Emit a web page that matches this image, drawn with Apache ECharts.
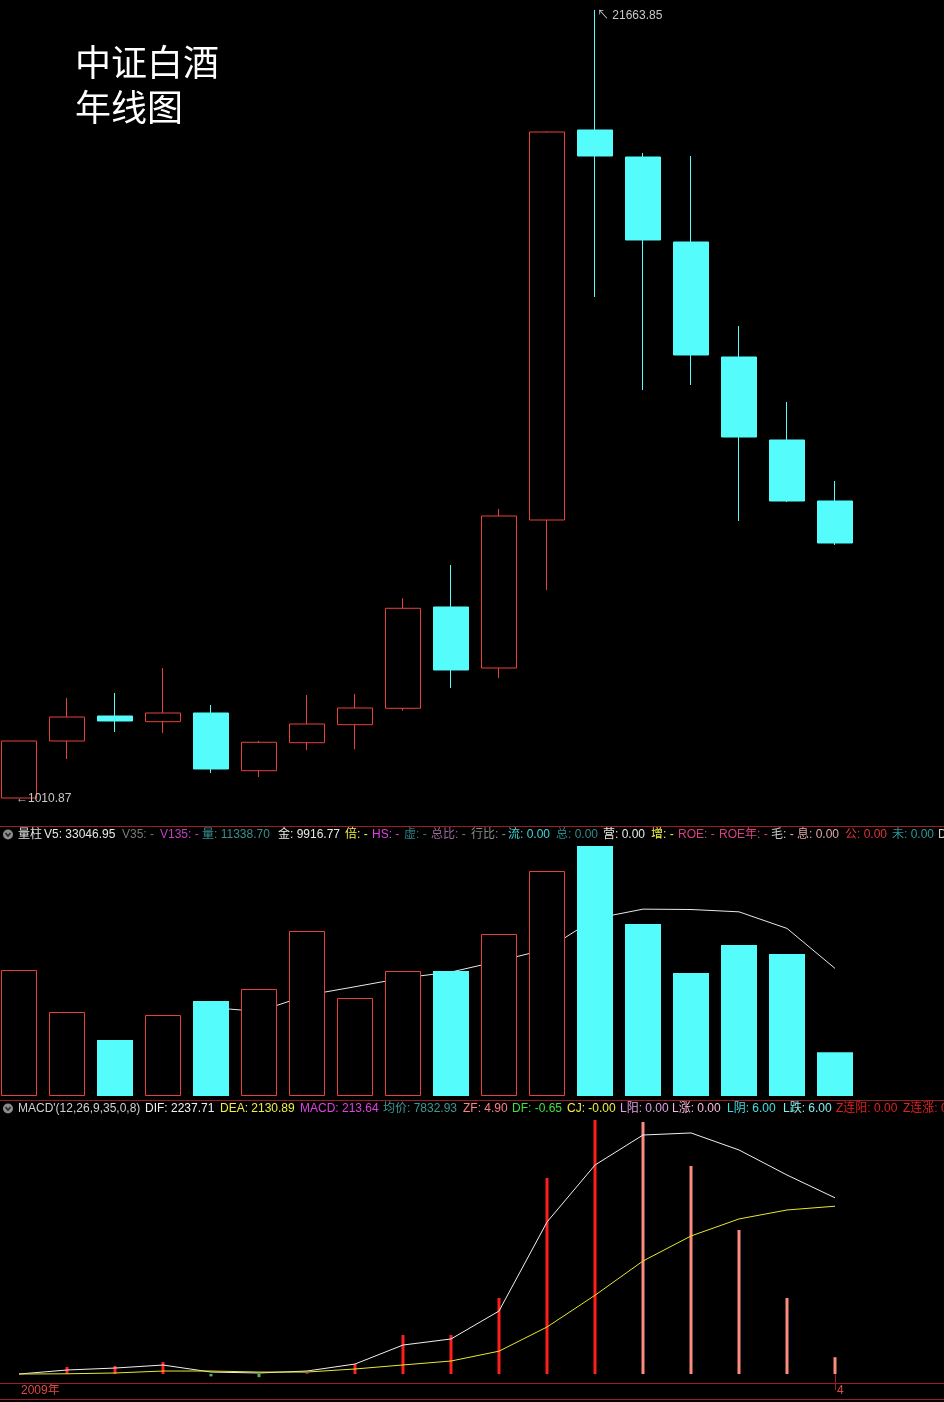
<!DOCTYPE html>
<html>
<head>
<meta charset="utf-8">
<script src="https://cdn.jsdelivr.net/npm/echarts@6/dist/echarts.min.js"></script>
<style>
html,body{margin:0;padding:0;background:#000;}
#c{width:944px;height:1402px;}
</style>
</head>
<body>
<div id="c"></div>
<script>
// ---- data ----
var years = ['2009','2010','2011','2012','2013','2014','2015','2016','2017','2018','2019','2020','2021','2022','2023','2024','2025','2026'];
var xTickLabels = ['2009年','','','','','','','','','','','','','','','','','4'];
// [open, close, low, high]
var opens  = [1010.87, 2505, 3160, 3011, 3239, 1726, 2460, 2932, 3362, 6017, 4418, 8297, 18519, 17811, 15583, 12569, 10394, 8795];
var closes = [2505, 3134, 3029, 3239, 1771, 2471, 2950, 3370, 5983, 4366, 8402, 18466, 17837, 15636, 12622, 10472, 8795, 7694];
var lows   = [1010.87, 2033, 2741, 2715, 1666, 1561, 2269, 2287, 3299, 3894, 4156, 6463, 14142, 11704, 11835, 8271, 8769, 7642];
var highs  = [2505, 3632, 3763, 4418, 3448, 2505, 3710, 3737, 6245, 7118, 8585, 18480, 21663.85, 17916, 17837, 13382, 11390, 9319];
var volumes = [32634, 21756, 14504, 20979, 24605, 27713, 42735, 25382, 32375, 32375, 41958, 58275, 64750, 44548, 31857, 39109, 36778, 11338.70];
var volMA5  = [null, null, null, null, 22900, 21900, 26100, 28300, 30550, 32100, 34950, 38050, 45950, 48400, 48300, 47700, 43400, 33046.95];
var dif  = [0, 51, 76, 114, 25, 13, 38, 127, 368, 445, 800, 1930, 2654, 3035, 3061, 2845, 2527, 2237.71];
var dea  = [0, 3, 13, 38, 38, 25, 25, 64, 115, 165, 290, 597, 1000, 1435, 1753, 1969, 2083, 2130.89];
var macd = [0, 89, 102, 152, -30, -40, 10, 127, 495, 495, 965, 2489, 3226, 3200, 2642, 1829, 965, 213.64];
var priceHigh = 21663.85, priceLow = 1010.87;

// ---- styles ----
var RED = '#e8403c', CYAN = '#54fcfc', SEP = '#9a1e2a';
var FONT = 'Arial, "Liberation Sans", "Noto Sans CJK SC", sans-serif';

var kData = years.map(function(y, i){ return [opens[i], closes[i], lows[i], highs[i]]; });
var volData = volumes.map(function(v, i){
  var up = closes[i] >= opens[i];
  return { value: v, itemStyle: up ? { color: '#000', borderColor: RED, borderWidth: 1 } : { color: CYAN, borderWidth: 0 } };
});

var volHeader = [
  [18,'量柱','#e0e0e0'],[44,'V5: 33046.95','#e8e8e8'],[122,'V35: -','#7a7a7a'],[160,'V135: -','#c040c0'],
  [202,'量: 11338.70','#3a9090'],[278,'金: 9916.77','#e8e8e8'],[345,'倍: -','#f0f040'],[372,'HS: -','#e040e0'],
  [404,'虚: -','#308080'],[431,'总比: -','#9a6a9a'],[471,'行比: -','#8a8a8a'],[508,'流: 0.00','#40d8d8'],
  [556,'总: 0.00','#308a8a'],[603,'营: 0.00','#e8e8e8'],[651,'增: -','#f0f040'],[678,'ROE: -','#d84080'],
  [719,'ROE年: -','#d84080'],[771,'毛: -','#c8c8c8'],[797,'息: 0.00','#e0a8a8'],[845,'公: 0.00','#d83838'],
  [892,'未: 0.00','#309898'],[938,'D','#d0d0d0']
];
var macdHeader = [
  [18,"MACD'(12,26,9,35,0,8)",'#d0d0d0'],[145,'DIF: 2237.71','#f0f0f0'],[220,'DEA: 2130.89','#f0f040'],
  [300,'MACD: 213.64','#e040e0'],[383,'均价: 7832.93','#3a9a9a'],[463,'ZF: 4.90','#ff8080'],
  [512,'DF: -0.65','#40e040'],[567,'CJ: -0.00','#f0f040'],[620,'L阳: 0.00','#e0a0e0'],
  [672,'L涨: 0.00','#ffb8e0'],[727,'L阴: 6.00','#40e0e0'],[783,'L跌: 6.00','#80f0f0'],
  [836,'Z连阳: 0.00','#e02020'],[903,'Z连涨: 0','#e02020']
];

var graphics = [];
function addHeader(list, y){
  list.forEach(function(h){
    graphics.push({ type:'text', x:h[0], y:y, z:10,
      style:{ text:h[1], fill:h[2], fontSize:12, fontFamily:FONT, verticalAlign:'middle' } });
  });
  graphics.push({ type:'circle', shape:{cx:8, cy:y, r:5}, style:{fill:'#8c8c8c'}, z:10 });
  graphics.push({ type:'polyline', shape:{points:[[5.5,y-1.5],[8,y+1.5],[10.5,y-1.5]]}, style:{stroke:'#222', lineWidth:1.5, fill:null}, z:11 });
}
addHeader(volHeader, 834.5);
addHeader(macdHeader, 1108.5);
[826, 1100, 1383, 1399].forEach(function(y){
  graphics.push({ type:'line', shape:{x1:0, y1:y+0.5, x2:944, y2:y+0.5}, style:{stroke:SEP, lineWidth:1}, z:5 });
});
graphics.push({ type:'text', x:75, y:62, z:10, style:{ text:'中证白酒', fill:'#ffffff', fontSize:36, fontFamily:'"Noto Sans CJK SC", sans-serif', verticalAlign:'middle' } });
graphics.push({ type:'text', x:75, y:107, z:10, style:{ text:'年线图', fill:'#ffffff', fontSize:36, fontFamily:'"Noto Sans CJK SC", sans-serif', verticalAlign:'middle' } });

var chart = echarts.init(document.getElementById('c'), null, {renderer:'canvas'});
var gridX = { left: 19, width: 816 };
chart.setOption({
  backgroundColor: '#000',
  animation: false,
  graphic: graphics,
  grid: [
    { left: gridX.left, width: gridX.width, top: 10, height: 788 },
    { left: gridX.left, width: gridX.width, top: 846, height: 250 },
    { left: gridX.left, width: gridX.width, top: 1118, height: 265 }
  ],
  xAxis: [
    { type:'category', gridIndex:0, data:years, boundaryGap:false, show:false },
    { type:'category', gridIndex:1, data:years, boundaryGap:false, show:false },
    { type:'category', gridIndex:2, data:years, boundaryGap:false,
      axisLine:{ show:false },
      axisTick:{ show:true, length:16, interval:function(i){ return i === years.length-1; }, lineStyle:{ color:SEP } },
      axisLabel:{ interval:0, color:'#e04848', fontSize:12, fontFamily:FONT, align:'left', margin:2, padding:[0,0,0,2],
        formatter:function(v, i){ return xTickLabels[i]; } },
      splitLine:{ show:false }
    }
  ],
  yAxis: [
    { type:'value', gridIndex:0, min:priceLow, max:priceHigh, show:false },
    { type:'value', gridIndex:1, min:0, max:64750, show:false },
    { type:'value', gridIndex:2, min:-114, max:3251, show:false }
  ],
  series: [
    { type:'candlestick', xAxisIndex:0, yAxisIndex:0, data:kData, barWidth:36, clip:false,
      itemStyle:{ color:'#000', color0:CYAN, borderColor:RED, borderColor0:CYAN, borderWidth:1 },
      markPoint:{
        symbol:'circle', symbolSize:0, silent:true,
        data:[
          { coord:[12, priceHigh], label:{ show:true, position:'right', distance:0, offset:[2,6], formatter:'↖ 21663.85', color:'#c8c8c8', fontSize:12, fontFamily:FONT } },
          { coord:[0, priceLow], label:{ show:true, position:'right', distance:0, offset:[-3,1], formatter:'←1010.87', color:'#c8c8c8', fontSize:12, fontFamily:FONT } }
        ]
      }
    },
    { type:'line', xAxisIndex:1, yAxisIndex:1, data:volMA5, symbol:'none', z:1,
      lineStyle:{ color:'#e8e8e8', width:1 } },
    { type:'bar', xAxisIndex:1, yAxisIndex:1, data:volData, barWidth:36, z:2, clip:false },
    { type:'bar', xAxisIndex:2, yAxisIndex:2, data:macd, barWidth:3, z:2, clip:false,
      itemStyle:{ color:function(p){
        var v = p.value, i = p.dataIndex;
        if (v < 0) return '#40c040';
        if (i > 0 && v < macd[i-1]) return '#ff8a80';
        return '#ff1e1e';
      } } },
    { type:'line', xAxisIndex:2, yAxisIndex:2, data:dif, symbol:'none', z:3, lineStyle:{ color:'#f0f0f0', width:1 } },
    { type:'line', xAxisIndex:2, yAxisIndex:2, data:dea, symbol:'none', z:3, lineStyle:{ color:'#e8e830', width:1 } }
  ]
});
</script>
</body>
</html>
